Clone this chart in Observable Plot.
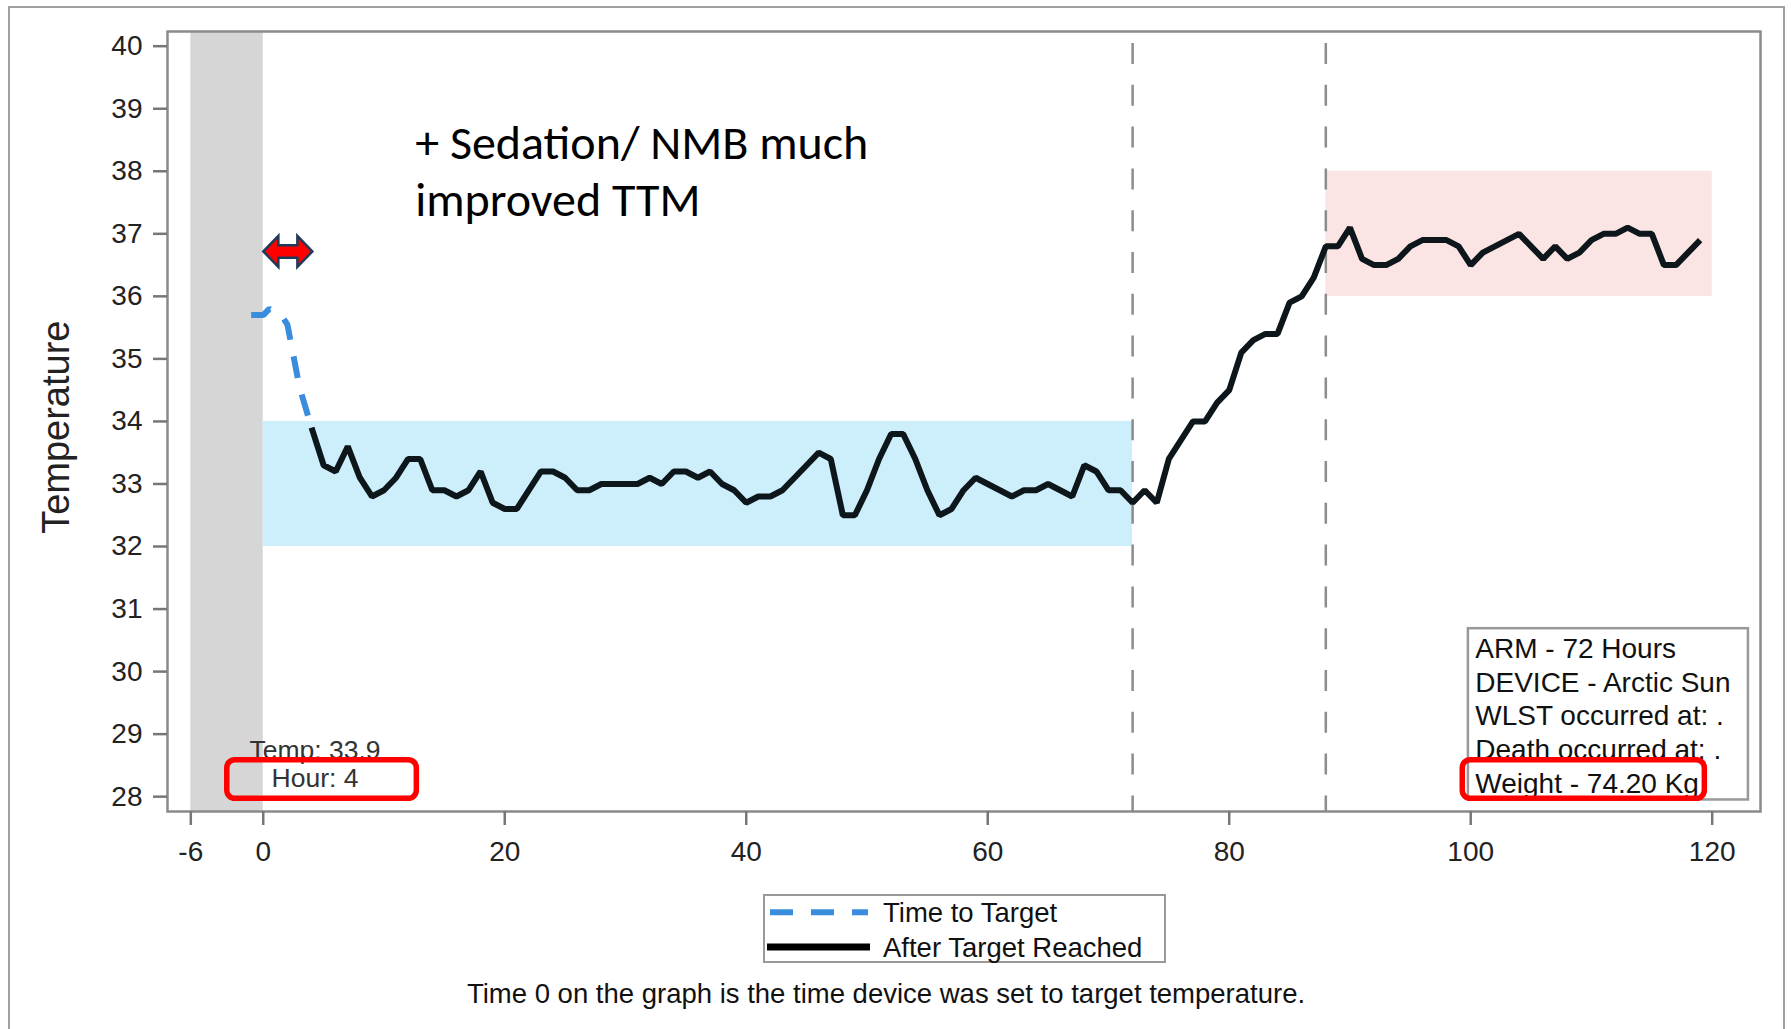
<!DOCTYPE html>
<html><head><meta charset="utf-8">
<script src="https://cdn.jsdelivr.net/npm/d3@7"></script>
<script src="https://cdn.jsdelivr.net/npm/@observablehq/plot@0.6"></script>
<style>
html,body{margin:0;padding:0;background:#fff;overflow:hidden;width:1791px;height:1029px}
#outer{position:absolute;left:8px;top:6px;width:1777px;height:1100px;border:2.5px solid #a0a0a0;box-sizing:border-box}
#chart{position:absolute;left:0;top:0}
#below{position:absolute;left:0;top:875px;font-family:'Liberation Sans',Arial,sans-serif}
</style></head><body>
<div id="outer"></div>
<div id="chart"></div>
<svg id="below" width="1791" height="154"></svg>
<script>
// ---------- data ----------
const ttHours = [-1, 0, 0.5, 1.5, 2, 3, 4];
const ttTemps = [35.7, 35.7, 35.8, 35.7, 35.55, 34.55, 33.9];

const afterStartHour = 4;
const afterTemps = [
  33.9, 33.3, 33.2, 33.6, 33.1, 32.8, 32.9, 33.1, 33.4, 33.4,
  32.9, 32.9, 32.8, 32.9, 33.2, 32.7, 32.6, 32.6, 32.9, 33.2,
  33.2, 33.1, 32.9, 32.9, 33.0, 33.0, 33.0, 33.0, 33.1, 33.0,
  33.2, 33.2, 33.1, 33.2, 33.0, 32.9, 32.7, 32.8, 32.8, 32.9,
  33.1, 33.3, 33.5, 33.4, 32.5, 32.5, 32.9, 33.4, 33.8, 33.8,
  33.4, 32.9, 32.5, 32.6, 32.9, 33.1, 33.0, 32.9, 32.8, 32.9,
  32.9, 33.0, 32.9, 32.8, 33.3, 33.2, 32.9, 32.9, 32.7, 32.9,
  32.7, 33.4, 33.7, 34.0, 34.0, 34.3, 34.5, 35.1, 35.3, 35.4,
  35.4, 35.9, 36.0, 36.3, 36.8, 36.8, 37.1, 36.6, 36.5, 36.5,
  36.6, 36.8, 36.9, 36.9, 36.9, 36.8, 36.5, 36.7, 36.8, 36.9,
  37.0, 36.8, 36.6, 36.8, 36.6, 36.7, 36.9, 37.0, 37.0, 37.1,
  37.0, 37.0, 36.5, 36.5, 36.7, 36.9
];

const xTicks = [-6, 0, 20, 40, 60, 80, 100, 120];
const yTicks = [28, 29, 30, 31, 32, 33, 34, 35, 36, 37, 38, 39, 40];
const xDomain = [-7.93, 124.0];
const yDomain = [27.763, 40.235];

const preBand = {x1: -6, x2: 0};
const targetBand = {x1: 0, x2: 72, y1: 32, y2: 34};
const rewarmBand = {x1: 88, x2: 120, y1: 36, y2: 38};
const phaseLines = [72, 88];

const infoBox = {x1: 99.81, x2: 123.0, y1: 27.947, y2: 30.686};
const infoLines = ["ARM - 72 Hours", "DEVICE - Arctic Sun", "WLST occurred at: .", "Death occurred at: .", "Weight - 74.20 Kg"];
const infoAnchor = {x: 100.38, y: 30.603};

const highlightBoxes = [
  {x1: -2.98, x2: 12.72, y1: 27.966, y2: 28.583},
  {x1: 99.34, x2: 119.39, y1: 27.966, y2: 28.583}
];
const pointLabel = {x: 4.29, y: 28.924};
const noteText = "+ Sedation/ NMB much\nimproved TTM";
const noteAnchor = {x: 12.58, y: 38.846};
const arrowX = [0.05, 4.11];
const arrowY = 36.71;

const legendItems = ["Time to Target", "After Target Reached"];
const captionText = "Time 0 on the graph is the time device was set to target temperature.";

// ---------- build ----------
const ttData = ttHours.map((h, i) => ({h, t: ttTemps[i]}));
const afterData = afterTemps.map((t, i) => ({h: afterStartHour + i, t}));

const blue = "#3a8ddc";
const dark = "#0c161b";
const font = "'Liberation Sans', Arial, sans-serif";

const plot = Plot.plot({
  width: 1791, height: 875,
  marginLeft: 167, marginRight: 31, marginTop: 31, marginBottom: 64,
  x: {domain: xDomain},
  y: {domain: yDomain},
  style: {background: "transparent", fontFamily: font, fontSize: "28px", color: "#111", overflow: "visible"},
  marks: [
    Plot.rect([preBand], {x1: "x1", x2: "x2", y1: yDomain[0], y2: yDomain[1], fill: "#d6d6d6"}),
    Plot.rect([targetBand], {x1: "x1", x2: "x2", y1: "y1", y2: "y2", fill: "#cdeefb"}),
    Plot.rect([rewarmBand], {x1: "x1", x2: "x2", y1: "y1", y2: "y2", fill: "#fbe4e4"}),
    Plot.ruleX(phaseLines, {x: d => d, y1: yDomain[1], y2: yDomain[0], stroke: "#8c8c8c", strokeWidth: 2.5, strokeDasharray: "21,20.8", strokeDashoffset: 29.8}),
    Plot.line(ttData, {x: "h", y: "t", stroke: blue, strokeWidth: 6, strokeDasharray: "22,17", strokeLinejoin: "miter", strokeLinecap: "butt"}),
    Plot.line(afterData, {x: "h", y: "t", stroke: dark, strokeWidth: 6, strokeLinejoin: "miter", strokeLinecap: "butt"}),
    Plot.text([noteText], {x: noteAnchor.x, y: noteAnchor.y, text: d => d, textAnchor: "start", lineAnchor: "top",
      fontFamily: "Carlito, Calibri, Lato, sans-serif", fontSize: 48, lineHeight: 1.19, fill: "#000"}),
    Plot.text([`Temp: ${afterTemps[0]}\nHour: ${afterStartHour}`], {x: pointLabel.x, y: pointLabel.y, text: d => d, textAnchor: "middle", lineAnchor: "top",
      fontSize: 26.5, lineHeight: 1.057, fill: "#333"}),
    Plot.rect([infoBox], {x1: "x1", x2: "x2", y1: "y1", y2: "y2", fill: "white", stroke: "#999", strokeWidth: 2.5}),
    Plot.text([infoLines.join("\n")], {x: infoAnchor.x, y: infoAnchor.y, text: d => d, textAnchor: "start", lineAnchor: "top",
      fontSize: 28, lineHeight: 1.2036, fill: "#111"}),
    Plot.rect(highlightBoxes, {x1: "x1", x2: "x2", y1: "y1", y2: "y2", fill: "none", stroke: "#ff0000", strokeWidth: 5.5, rx: 8}),
    Plot.text(["Temperature"], {frameAnchor: "left", text: d => d, textAnchor: "middle", dx: -110.3, dy: 5.7, rotate: -90, fontSize: 38, fill: "#222"}),
    Plot.frame({stroke: "#8a8a8a", strokeWidth: 2.5}),
    Plot.axisX(xTicks, {tickSize: 14, tickPadding: 16, stroke: "#777", strokeWidth: 2.5, fill: "#222", fontSize: 28, label: null, tickFormat: d => String(d)}),
    Plot.axisY(yTicks, {tickSize: 14, tickPadding: 11, stroke: "#777", strokeWidth: 2.5, fill: "#222", fontSize: 28, label: null, tickFormat: d => String(d)})
  ]
});
document.getElementById("chart").appendChild(plot);

// red double arrow placed with the plot's own scales
const sx = plot.scale("x"), sy = plot.scale("y");
const ax0 = sx.apply(arrowX[0]), ax1 = sx.apply(arrowX[1]), ay = sy.apply(arrowY);
const hl = 15, hh = 15.5, sh = 6.3;
const ns = "http://www.w3.org/2000/svg";
const arrow = document.createElementNS(ns, "path");
arrow.setAttribute("d", `M${ax0},${ay}L${ax0+hl},${ay-hh}L${ax0+hl},${ay-sh}L${ax1-hl},${ay-sh}L${ax1-hl},${ay-hh}L${ax1},${ay}L${ax1-hl},${ay+hh}L${ax1-hl},${ay+sh}L${ax0+hl},${ay+sh}L${ax0+hl},${ay+hh}Z`);
arrow.setAttribute("fill", "#ff0000");
arrow.setAttribute("stroke", "#1f3b5c");
arrow.setAttribute("stroke-width", "2.5");
arrow.setAttribute("stroke-linejoin", "miter");
plot.appendChild(arrow);

// legend + caption below the plot
const below = d3.select("#below");
const lg = below.append("g").attr("transform", "translate(763,19)");
lg.append("rect").attr("x", 1).attr("y", 1).attr("width", 401).attr("height", 67).attr("fill", "white").attr("stroke", "#999").attr("stroke-width", 2);
lg.append("line").attr("x1", 7).attr("x2", 105).attr("y1", 18.3).attr("y2", 18.3).attr("stroke", blue).attr("stroke-width", 6).attr("stroke-dasharray", "23,18");
lg.append("line").attr("x1", 4).attr("x2", 107).attr("y1", 53).attr("y2", 53).attr("stroke", "#000").attr("stroke-width", 7);
lg.selectAll("text.item").data(legendItems).join("text").attr("class", "item")
  .attr("x", 120).attr("y", (d, i) => i === 0 ? 28.3 : 63).attr("font-size", 27.5).attr("fill", "#111").text(d => d);
below.append("text").attr("x", 886).attr("y", 128).attr("text-anchor", "middle").attr("font-size", 27.5).attr("fill", "#111").text(captionText);
</script></body></html>
